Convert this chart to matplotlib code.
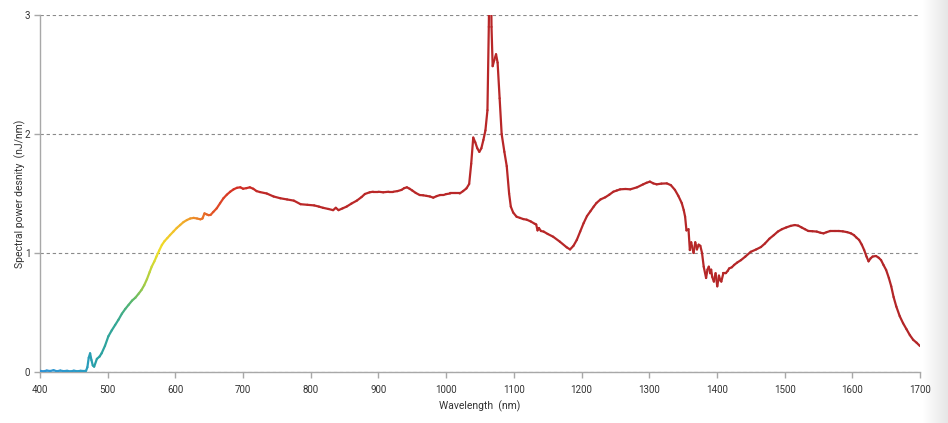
import numpy as np
import matplotlib
matplotlib.use("Agg")
import matplotlib.pyplot as plt
from matplotlib.collections import LineCollection
from matplotlib.colors import LinearSegmentedColormap, to_rgb


# SPECTRUM DATA
wavelength = [
    400, 405, 410, 415, 420, 425, 430, 435, 440, 445, 450, 455, 460, 465, 468,
    470, 472, 474, 476, 478, 480, 484, 488, 491, 496, 501, 506, 511, 516, 521,
    526, 531, 536, 541, 546, 550, 554, 558, 562, 565, 569, 572, 576, 580, 584,
    588, 592, 597, 602, 607, 612, 617, 622, 627, 632, 637, 640, 643, 646, 649,
    652, 656, 661, 666, 671, 676, 681, 686, 691, 696, 700, 705, 710, 715, 720,
    725, 735, 745, 755, 765, 775, 785, 795, 805, 812, 818, 826, 833, 837, 841,
    847, 853, 860, 868, 875, 880, 887, 892, 900, 907, 915, 922, 928, 934, 938,
    942, 946, 950, 955, 961, 966, 971, 976, 981, 986, 991, 996, 1000, 1006, 1013,
    1020, 1025, 1030, 1034, 1037, 1040, 1043, 1046, 1049, 1052, 1055, 1058, 1061, 1063, 1064,
    1066, 1067, 1068.7, 1071, 1073.7, 1076, 1079, 1082, 1086, 1089.5, 1093, 1095.5, 1099, 1104, 1109,
    1114, 1119, 1125, 1131, 1133, 1135, 1137, 1140, 1144, 1150, 1158, 1168, 1178, 1183, 1188,
    1193, 1198, 1203, 1208, 1213, 1218, 1222, 1228, 1235, 1241, 1247, 1252, 1257, 1265, 1272,
    1282, 1291, 1296, 1301, 1306, 1311, 1318, 1326, 1332, 1338, 1343, 1348, 1351, 1353, 1355,
    1358, 1360, 1362, 1363, 1365.5, 1368, 1370.5, 1373, 1375.5, 1378, 1380.5, 1384, 1386, 1388, 1390,
    1391.5, 1393, 1395.5, 1398, 1400.5, 1403, 1405, 1406.5, 1409.5, 1413, 1416, 1418, 1422, 1425.5, 1430,
    1435.5, 1442, 1450, 1458, 1465, 1471, 1477.5, 1484, 1490, 1496, 1502.5, 1509, 1515, 1520, 1525,
    1530, 1535, 1541, 1547.5, 1553, 1557.5, 1562, 1567.5, 1574, 1580, 1586, 1592.5, 1598, 1602.5, 1606,
    1610, 1614, 1617.5, 1621, 1624, 1627, 1630, 1635, 1639, 1642.5, 1646, 1650, 1654, 1657.5, 1661,
    1665, 1670, 1675, 1680, 1685, 1690, 1695, 1700,
]
power = [
    0.010, 0.005, 0.012, 0.008, 0.015, 0.006, 0.012, 0.007, 0.010, 0.005, 0.011, 0.006, 0.010, 0.008, 0.010,
    0.040, 0.120, 0.157, 0.100, 0.055, 0.045, 0.110, 0.130, 0.157, 0.220, 0.300, 0.350, 0.395, 0.440, 0.490,
    0.530, 0.565, 0.600, 0.625, 0.660, 0.690, 0.730, 0.780, 0.840, 0.885, 0.930, 0.970, 1.020, 1.067, 1.100,
    1.125, 1.150, 1.180, 1.210, 1.235, 1.260, 1.277, 1.290, 1.295, 1.290, 1.283, 1.290, 1.333, 1.325, 1.318,
    1.320, 1.345, 1.375, 1.418, 1.460, 1.490, 1.515, 1.535, 1.548, 1.552, 1.540, 1.545, 1.552, 1.540, 1.520,
    1.512, 1.500, 1.475, 1.460, 1.450, 1.440, 1.410, 1.405, 1.400, 1.390, 1.380, 1.370, 1.360, 1.380, 1.360,
    1.375, 1.390, 1.415, 1.440, 1.470, 1.496, 1.510, 1.515, 1.515, 1.510, 1.515, 1.515, 1.520, 1.530, 1.545,
    1.552, 1.540, 1.525, 1.505, 1.487, 1.485, 1.480, 1.475, 1.465, 1.478, 1.487, 1.487, 1.495, 1.500, 1.500,
    1.500, 1.520, 1.543, 1.580, 1.750, 1.970, 1.930, 1.880, 1.850, 1.880, 1.950, 2.030, 2.200, 2.900, 3.400,
    3.400, 2.900, 2.570, 2.620, 2.670, 2.600, 2.300, 2.000, 1.850, 1.730, 1.500, 1.390, 1.340, 1.305, 1.295,
    1.285, 1.280, 1.265, 1.245, 1.240, 1.190, 1.210, 1.185, 1.180, 1.160, 1.137, 1.095, 1.048, 1.030, 1.060,
    1.110, 1.180, 1.250, 1.310, 1.350, 1.390, 1.420, 1.450, 1.468, 1.490, 1.515, 1.525, 1.535, 1.538, 1.535,
    1.552, 1.577, 1.590, 1.600, 1.585, 1.577, 1.583, 1.585, 1.570, 1.530, 1.480, 1.420, 1.360, 1.305, 1.190,
    1.200, 1.025, 1.090, 1.060, 1.000, 1.090, 1.030, 1.070, 1.060, 1.000, 0.885, 0.790, 0.860, 0.885, 0.830,
    0.860, 0.800, 0.760, 0.830, 0.720, 0.810, 0.770, 0.760, 0.830, 0.830, 0.850, 0.870, 0.880, 0.900, 0.920,
    0.940, 0.970, 1.010, 1.030, 1.050, 1.080, 1.120, 1.150, 1.180, 1.200, 1.215, 1.228, 1.235, 1.230, 1.215,
    1.200, 1.185, 1.183, 1.180, 1.170, 1.165, 1.175, 1.185, 1.185, 1.185, 1.182, 1.175, 1.165, 1.150, 1.130,
    1.110, 1.070, 1.025, 0.970, 0.930, 0.955, 0.970, 0.975, 0.960, 0.940, 0.900, 0.857, 0.790, 0.720, 0.630,
    0.550, 0.470, 0.410, 0.360, 0.310, 0.270, 0.246, 0.218,
]

x_ticks = [400, 500, 600, 700, 800, 900, 1000, 1100, 1200, 1300, 1400, 1500, 1600, 1700]
y_ticks = [0, 1, 2, 3]

# colour of the trace along the wavelength axis
colour_stops = [
    (400, "#2f93d6"), (466, "#2a9cc4"), (482, "#28a0a6"), (515, "#36a894"),
    (538, "#5cb86a"), (556, "#a6cc44"), (575, "#eee028"), (598, "#f2c22c"),
    (618, "#f0a22a"), (640, "#ea7428"), (662, "#e04a26"), (690, "#d42e24"),
    (740, "#bb2828"), (1700, "#b32628"),
]


def spectral_colours(wl):
    stops = np.array([s[0] for s in colour_stops], dtype=float)
    rgb = np.array([to_rgb(s[1]) for s in colour_stops])
    return np.column_stack([np.interp(wl, stops, rgb[:, i]) for i in range(3)])


fig = plt.figure(figsize=(9.48, 4.23), dpi=100)
plt.rcParams["font.family"] = ["Roboto", "DejaVu Sans"]

# grey shade on the right edge
shade = fig.add_axes([923 / 948, 0, 25 / 948, 1])
shade.imshow(np.linspace(0, 1, 64)[None, :], aspect="auto",
             cmap=LinearSegmentedColormap.from_list("sh", ["#ffffff", "#e6e6e6"]),
             extent=[0, 1, 0, 1])
shade.axis("off")

ax = fig.add_axes([40 / 948, 51 / 423, 880 / 948, 357 / 423])

x = np.array(wavelength, dtype=float)
y = np.array(power, dtype=float)
pts = np.column_stack([x, y]).reshape(-1, 1, 2)
segs = np.concatenate([pts[:-1], pts[1:]], axis=1)
mid = (x[:-1] + x[1:]) / 2
lc = LineCollection(segs, colors=spectral_colours(mid), linewidth=1.6,
                    capstyle="round", joinstyle="round", zorder=3)
ax.add_collection(lc)

ax.set_xlim(400, 1700)
ax.set_ylim(0, 3)
ax.set_xticks(x_ticks)
ax.set_yticks(y_ticks)
ax.grid(axis="y", color="#8a8a8a", linestyle=(0, (3, 2.5)), linewidth=0.8)
ax.set_axisbelow(True)

for side in ["top", "right"]:
    ax.spines[side].set_visible(False)
for side in ["left", "bottom"]:
    ax.spines[side].set_color("#a8a8a8")
    ax.spines[side].set_linewidth(1.0)

ax.tick_params(axis="both", colors="#a8a8a8", labelcolor="#333333",
               labelsize=7, length=4, width=1.0)
ax.tick_params(axis="x", pad=5)
ax.tick_params(axis="y", pad=3)

ax.set_xlabel("Wavelength  (nm)", fontsize=7.5, color="#333333", labelpad=4)
ax.set_ylabel("Spectral power desnity  (nJ/nm)", fontsize=7.5, color="#333333", labelpad=-1)

plt.savefig("out.png", dpi=100)
plt.close()
